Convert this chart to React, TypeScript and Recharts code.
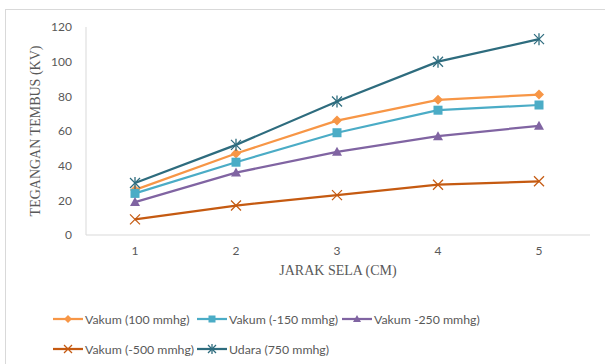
import React from 'react';
import { LineChart, Line, XAxis, YAxis } from 'recharts';

const distances = ['1', '2', '3', '4', '5'];
const yTicks = [0, 20, 40, 60, 80, 100, 120];

const vakum100 = [26, 47, 66, 78, 81];
const vakum150 = [24, 42, 59, 72, 75];
const vakum250 = [19, 36, 48, 57, 63];
const vakum500 = [9, 17, 23, 29, 31];
const udara750 = [30, 52, 77, 100, 113];

type Shape = 'diamond' | 'square' | 'triangle' | 'x' | 'star';

const SERIES: { key: string; name: string; color: string; shape: Shape; values: number[] }[] = [
  { key: 'v100', name: 'Vakum (100 mmhg)', color: '#F79646', shape: 'diamond', values: vakum100 },
  { key: 'v150', name: 'Vakum (-150 mmhg)', color: '#4BACC6', shape: 'square', values: vakum150 },
  { key: 'v250', name: 'Vakum -250 mmhg)', color: '#8064A2', shape: 'triangle', values: vakum250 },
  { key: 'v500', name: 'Vakum (-500 mmhg)', color: '#C55A11', shape: 'x', values: vakum500 },
  { key: 'udara', name: 'Udara (750 mmhg)', color: '#2E6C7E', shape: 'star', values: udara750 },
];

const data = distances.map((d, i) => {
  const row: Record<string, any> = { jarak: d };
  SERIES.forEach(s => { row[s.key] = s.values[i]; });
  return row;
});

const Marker = ({ cx, cy, color, shape, r = 5 }: { cx: number; cy: number; color: string; shape: Shape; r?: number }) => {
  if (shape === 'diamond') {
    return <polygon points={`${cx},${cy - r} ${cx + r},${cy} ${cx},${cy + r} ${cx - r},${cy}`} fill={color} />;
  }
  if (shape === 'square') {
    return <rect x={cx - r + 0.5} y={cy - r + 0.5} width={2 * r - 1} height={2 * r - 1} fill={color} />;
  }
  if (shape === 'triangle') {
    return <polygon points={`${cx},${cy - r} ${cx + r},${cy + r - 1} ${cx - r},${cy + r - 1}`} fill={color} />;
  }
  if (shape === 'x') {
    return (
      <g stroke={color} strokeWidth={1.3}>
        <line x1={cx - r} y1={cy - r} x2={cx + r} y2={cy + r} />
        <line x1={cx - r} y1={cy + r} x2={cx + r} y2={cy - r} />
      </g>
    );
  }
  return (
    <g stroke={color} strokeWidth={1.3}>
      <line x1={cx - r} y1={cy - r} x2={cx + r} y2={cy + r} />
      <line x1={cx - r} y1={cy + r} x2={cx + r} y2={cy - r} />
      <line x1={cx} y1={cy - r - 1} x2={cx} y2={cy + r + 1} />
    </g>
  );
};

const tickStyle = { fill: '#595959', fontSize: 12, fontFamily: 'Lato, "Open Sans", sans-serif' };
const titleStyle = { fill: '#595959', fontSize: 14, fontFamily: '"Liberation Serif", "DejaVu Serif", serif' };

const LegendBox = () => (
  <div
    style={{
      position: 'absolute',
      left: 53,
      top: 309,
      display: 'grid',
      gridTemplateColumns: '144px 145px 160px',
      rowGap: 10,
      fontFamily: 'Lato, "Open Sans", sans-serif',
      fontSize: 12.3,
      color: '#595959',
      whiteSpace: 'nowrap',
    }}
  >
    {SERIES.map(s => (
      <div key={s.key} style={{ display: 'flex', alignItems: 'center', height: 20 }}>
        <svg width={31} height={14} style={{ marginRight: 1, flexShrink: 0 }}>
          <line x1={0} y1={7} x2={30} y2={7} stroke={s.color} strokeWidth={2.25} />
          <Marker cx={15} cy={7} color={s.color} shape={s.shape} r={4} />
        </svg>
        <span>{s.name}</span>
      </div>
    ))}
  </div>
);

export default function App() {
  return (
    <div style={{ position: 'absolute', left: 0, top: 0, width: 605, height: 364, background: '#fff', overflow: 'hidden' }}>
      <div style={{ position: 'absolute', left: 5, top: 9, width: 620, height: 380, border: '1px solid #D9D9D9' }} />
      <LineChart
        width={605}
        height={364}
        data={data}
        margin={{ top: 27, right: 15, left: 0, bottom: 99 }}
        style={{ position: 'absolute', left: 0, top: 0 }}
      >
        <XAxis
          dataKey="jarak"
          tick={tickStyle}
          tickLine={false}
          tickMargin={5}
          height={30}
          padding={{ left: 49, right: 51 }}
          stroke="#D9D9D9"
          label={{ value: 'JARAK SELA (CM)', position: 'bottom', offset: 0, style: titleStyle }}
        />
        <YAxis
          domain={[0, 120]}
          ticks={yTicks}
          tick={tickStyle}
          tickLine={false}
          tickMargin={8}
          width={86}
          stroke="#D9D9D9"
          label={{ value: 'TEGANGAN TEMBUS (KV)', angle: -90, position: 'center', dx: -8, style: titleStyle }}
        />
        {SERIES.map(s => (
          <Line
            key={s.key}
            dataKey={s.key}
            name={s.name}
            stroke={s.color}
            strokeWidth={2.25}
            isAnimationActive={false}
            dot={(p: any) => <Marker key={`${s.key}-${p.index}`} cx={p.cx} cy={p.cy} color={s.color} shape={s.shape} />}
            activeDot={false}
          />
        ))}
      </LineChart>
      <LegendBox />
    </div>
  );
}
